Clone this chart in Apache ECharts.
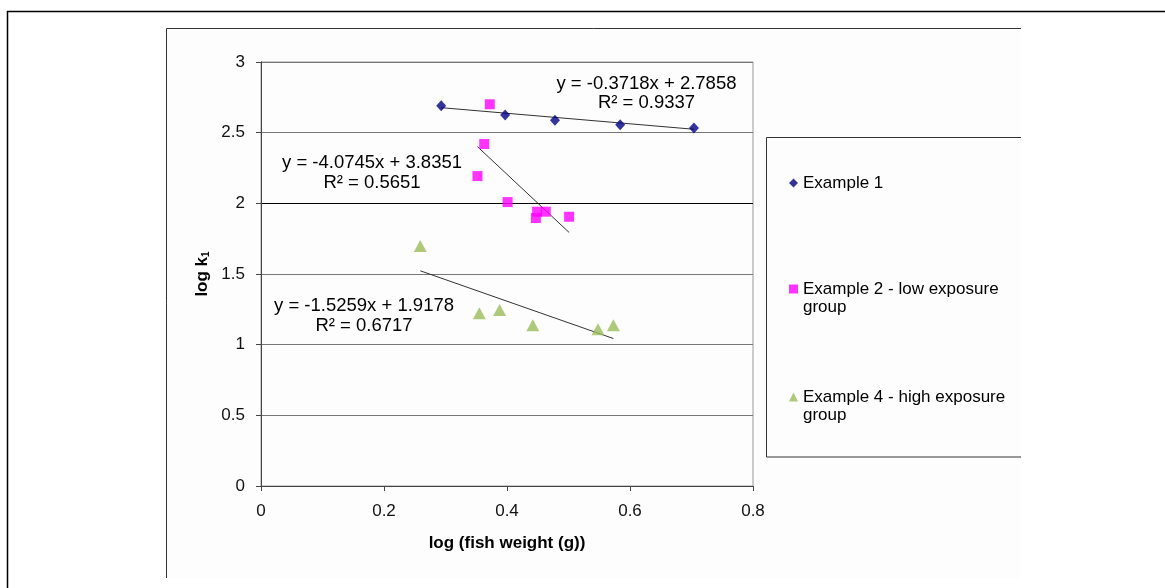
<!DOCTYPE html>
<html>
<head>
<meta charset="utf-8">
<script src="https://cdn.jsdelivr.net/npm/echarts@6/dist/echarts.min.js"></script>
<style>
html,body{margin:0;padding:0;background:#fff;}
#c{width:1165px;height:588px;}
</style>
</head>
<body>
<div id="c"></div>
<script>
// ---- data ----
const seriesNames = ['Example 1', 'Example 2 - low exposure group', 'Example 4 - high exposure group'];
const xEx1 = [0.293, 0.397, 0.478, 0.584, 0.704];
const yEx1 = [2.691, 2.625, 2.588, 2.556, 2.533];
const xEx2 = [0.372, 0.363, 0.352, 0.401, 0.449, 0.463, 0.447, 0.501];
const yEx2 = [2.701, 2.420, 2.193, 2.009, 1.941, 1.941, 1.896, 1.905];
const xEx4 = [0.259, 0.355, 0.388, 0.442, 0.548, 0.573];
const yEx4 = [1.698, 1.222, 1.245, 1.137, 1.109, 1.137];
const trendSlope = [-0.3718, -4.0745, -1.5259];
const trendIntercept = [2.7858, 3.8351, 1.9178];
const trendR2 = ['0.9337', '0.5651', '0.6717'];
const xTickLabels = ['0', '0.2', '0.4', '0.6', '0.8'];
const yTickLabels = ['0', '0.5', '1', '1.5', '2', '2.5', '3'];

// ---- chart ----
const FONT = '"Liberation Sans", Arial, sans-serif';
const xs = [xEx1, xEx2, xEx4];
const ys = [yEx1, yEx2, yEx4];
const colors = ['#000080', '#FF00FF', '#9BBB59'];
const symbols = ['diamond', 'rect', 'triangle'];
const symbolSizes = [[10, 11], 10, [13, 12]];
// anchor (data coords) for each trendline equation label
const eqAnchor = [[0.6268, 2.779], [0.1805, 2.215], [0.1675, 1.203]];

function pairs(a, b) { return a.map((v, i) => [v, b[i]]); }
function trendPts(i) {
  const lo = Math.min.apply(null, xs[i]), hi = Math.max.apply(null, xs[i]);
  return [[lo, trendSlope[i] * lo + trendIntercept[i]], [hi, trendSlope[i] * hi + trendIntercept[i]]];
}
function eqText(i) {
  const s = trendSlope[i].toFixed(4), c = trendIntercept[i].toFixed(4);
  return 'y = ' + s + 'x + ' + c + '\nR\u00B2 = ' + trendR2[i];
}

const series = [];
for (let i = 0; i < 3; i++) {
  series.push({
    name: 'trend' + i, type: 'line', data: trendPts(i), symbol: 'none', silent: true, z: 1,
    lineStyle: { color: '#333', width: 1 },
    markPoint: {
      symbol: 'circle', symbolSize: 0, silent: true,
      label: { show: true, position: 'inside', formatter: eqText(i), color: '#000', fontFamily: FONT,
               fontSize: 18.5, lineHeight: 19.5, align: 'center' },
      data: [{ coord: eqAnchor[i] }]
    }
  });
}
for (let i = 0; i < 3; i++) {
  series.push({
    name: seriesNames[i], type: 'scatter', data: pairs(xs[i], ys[i]), z: 3,
    symbol: symbols[i], symbolSize: symbolSizes[i],
    itemStyle: { color: colors[i] }
  });
}

const legendTops = [174, 262, 370];
const legends = seriesNames.map((n, i) => ({
  data: [{ name: n, icon: symbols[i] }],
  left: 789, top: legendTops[i], padding: 0, orient: 'vertical',
  itemWidth: 9, itemHeight: 9, selectedMode: false,
  // wrapped names: a leading empty line keeps the first text line level with the icon
  formatter: nm => nm.indexOf(' group') >= 0 ? '\n' + nm.replace(' group', '\ngroup') : nm,
  textStyle: { fontFamily: FONT, fontSize: 17, color: '#000', lineHeight: 18 }
}));

const option = {
  animation: false,
  backgroundColor: '#fff',
  color: colors,
  textStyle: { fontFamily: FONT },
  grid: { left: 261, top: 62, width: 492, height: 424, show: true, borderColor: '#999', borderWidth: 1, backgroundColor: 'transparent' },
  xAxis: {
    type: 'value', min: 0, max: 0.8, interval: 0.2,
    name: 'log (fish weight (g))', nameLocation: 'middle', nameGap: 49,
    nameTextStyle: { fontFamily: FONT, fontSize: 17, fontWeight: 'bold', color: '#000' },
    axisLine: { show: true, onZero: false, lineStyle: { color: '#444', width: 1 } },
    axisTick: { show: true, inside: false, length: 5, lineStyle: { color: '#444' } },
    axisLabel: { margin: 17, fontFamily: FONT, fontSize: 17, color: '#111',
                 formatter: v => xTickLabels[Math.round(v / 0.2)] },
    splitLine: { show: false }
  },
  yAxis: {
    type: 'value', min: 0, max: 3, interval: 0.5,
    name: 'log k{s|1}', nameLocation: 'middle', nameGap: 50, nameRotate: 90,
    nameTextStyle: { fontFamily: FONT, fontSize: 17, fontWeight: 'bold', color: '#000',
      rich: { s: { fontFamily: FONT, fontSize: 10, fontWeight: 'bold', color: '#000', verticalAlign: 'bottom', padding: [8, 0, 0, 0] } } },
    axisLine: { show: true, onZero: false, lineStyle: { color: '#444', width: 1 } },
    axisTick: { show: true, inside: false, length: 5, lineStyle: { color: '#444' } },
    axisLabel: { margin: 16, fontFamily: FONT, fontSize: 17, color: '#111',
                 formatter: v => yTickLabels[Math.round(v / 0.5)] },
    splitLine: { show: true, lineStyle: { width: 1, color: ['#777', '#777', '#777', '#777', '#000', '#777', '#777'] } }
  },
  legend: legends,
  graphic: [
    { type: 'rect', z: -10, silent: true, shape: { x: 166, y: 28, width: 855, height: 550 }, style: { fill: '#fdfdfd' } },
    { type: 'polyline', z: -5, silent: true, shape: { points: [[7.5, 588], [7.5, 11.5], [1165, 11.5]] }, style: { stroke: '#000', lineWidth: 1.5, fill: null } },
    { type: 'polyline', z: -5, silent: true, shape: { points: [[166.5, 578], [166.5, 28.5], [1021, 28.5]] }, style: { stroke: '#333', lineWidth: 1, fill: null } },
    { type: 'polyline', z: -5, silent: true, shape: { points: [[1021, 137.5], [766.5, 137.5], [766.5, 457], [1021, 457]] }, style: { stroke: '#333', lineWidth: 1, fill: null } }
  ],
  series: series
};

const chart = echarts.init(document.getElementById('c'), null, { renderer: 'canvas' });
chart.setOption(option);
</script>
</body>
</html>
